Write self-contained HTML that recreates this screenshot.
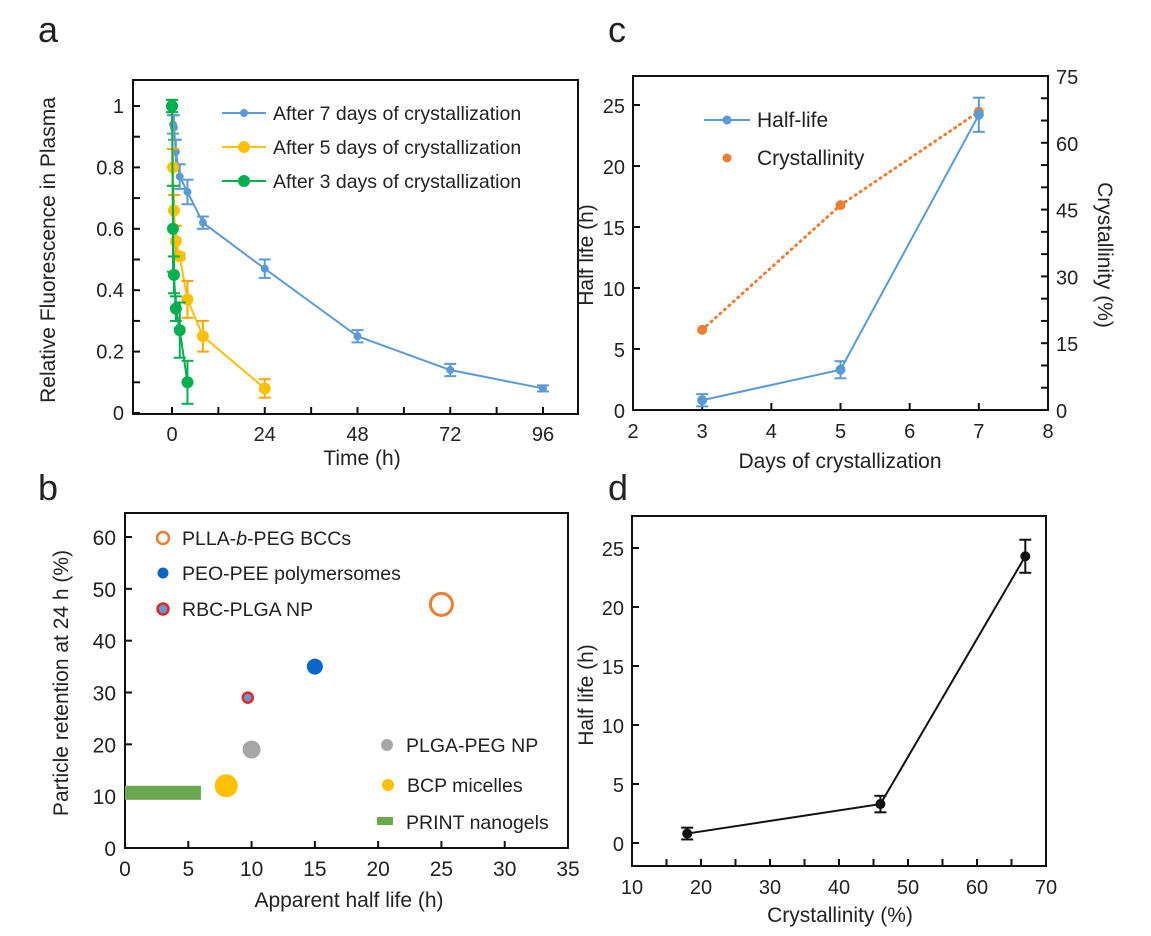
<!DOCTYPE html>
<html><head><meta charset="utf-8"><style>
body{margin:0;background:#fff;}
svg{display:block;font-family:"Liberation Sans",sans-serif;}
</style></head><body>
<svg id="fig" width="1151" height="936" viewBox="0 0 1151 936" xmlns="http://www.w3.org/2000/svg"></svg>
<script>
// ---- Panel a data ----
const aTime7 = [0, 0.25, 0.5, 1, 2, 4, 8, 24, 48, 72, 96];
const aVal7  = [1.0, 0.94, 0.93, 0.85, 0.77, 0.72, 0.62, 0.47, 0.25, 0.14, 0.08];
const aErr7  = [0.02, 0.03, 0.04, 0.04, 0.04, 0.04, 0.02, 0.03, 0.02, 0.02, 0.01];
const aTime5 = [0, 0.25, 0.5, 1, 2, 4, 8, 24];
const aVal5  = [1.0, 0.8, 0.66, 0.56, 0.51, 0.37, 0.25, 0.08];
const aErr5  = [0.02, 0.06, 0.05, 0.05, 0.01, 0.06, 0.05, 0.03];
const aTime3 = [0, 0.25, 0.5, 1, 2, 4];
const aVal3  = [1.0, 0.6, 0.45, 0.34, 0.27, 0.1];
const aErr3  = [0.02, 0.14, 0.06, 0.04, 0.09, 0.07];
const aXTicks = [0, 24, 48, 72, 96];
const aYTicks = ["0", "0.2", "0.4", "0.6", "0.8", "1"];
// ---- Panel b data ----
const bNames = ["PLLA-b-PEG BCCs", "PEO-PEE polymersomes", "RBC-PLGA NP", "PLGA-PEG NP", "BCP micelles"];
const bHalf  = [25, 15, 9.7, 10, 8];
const bRet   = [47, 35, 29, 19, 12];
const bPrintHalf = [0, 6];
const bPrintRet  = [9.3, 12];
const bXTicks = [0, 5, 10, 15, 20, 25, 30, 35];
const bYTicks = [0, 10, 20, 30, 40, 50, 60];
// ---- Panel c data ----
const cDays = [3, 5, 7];
const cHalf = [0.8, 3.3, 24.2];
const cHalfErr = [0.5, 0.7, 1.4];
const cCryst = [18, 46, 67];
const cXTicks = [2, 3, 4, 5, 6, 7, 8];
const cYTicks = [0, 5, 10, 15, 20, 25];
const cY2Ticks = [0, 15, 30, 45, 60, 75];
// ---- Panel d data ----
const dCryst = [18, 46, 67];
const dHalf = [0.8, 3.3, 24.3];
const dErr = [0.5, 0.7, 1.4];
const dXTicks = [10, 20, 30, 40, 50, 60, 70];
const dYTicks = [0, 5, 10, 15, 20, 25];

const NS = "http://www.w3.org/2000/svg";
const svg = document.getElementById("fig");
function el(tag, attrs, parent, text){
  const e = document.createElementNS(NS, tag);
  for (const k in attrs) e.setAttribute(k, attrs[k]);
  if (text !== undefined) e.textContent = text;
  (parent || svg).appendChild(e);
  return e;
}
function lin(d0, d1, r0, r1){ return v => r0 + (v - d0) * (r1 - r0) / (d1 - d0); }
function line(x1,y1,x2,y2,stroke,w,parent,dash){
  const a = {x1,y1,x2,y2,stroke,"stroke-width":w};
  if (dash) a["stroke-dasharray"] = dash;
  return el("line", a, parent);
}
function txt(x,y,s,size,anchor,parent){
  return el("text",{x,y,"font-size":size,"text-anchor":anchor||"middle",fill:"#222"},parent,s);
}
function panelLabel(x,y,s){
  const t = txt(x,y,s,36,"start");
  
  
}

// ===== Panel a =====
(function(){
  const g = el("g",{});
  
  
  const L=133, R=578, T=80, B=414;
  const x = lin(0,96,172,543), y = lin(0,1,413,106);
  const ax = el("rect",{x:L,y:T,width:R-L,height:B-T,fill:"none",stroke:"#111","stroke-width":2},g);
  
  
  for (let v=0; v<=1.0001; v+=0.1) line(L,y(v),L+7,y(v),"#111",2,g);
  for (let h=0; h<=96; h+=12) line(x(h),B,x(h),B-7,"#111",2,g);
  aYTicks.forEach(s=>{ const t=txt(L-9,y(parseFloat(s))+7,s,20,"end",g);
    
     });
  aXTicks.forEach(v=>{ const t=txt(x(v),B+27,String(v),20,"middle",g);
    
     });
  const xt = txt(362,465,"Time (h)",21,"middle",g);
  
  
  const yt = txt(0,0,"Relative Fluorescence in Plasma",21,"middle",g);
  yt.setAttribute("transform","translate(55,250) rotate(-90)");
  
  
  const series = [
    {t:aTime7,v:aVal7,e:aErr7,c:"#5b9bd5",r:4,name:"After 7 days of crystallization"},
    {t:aTime5,v:aVal5,e:aErr5,c:"#ffc000",r:6,name:"After 5 days of crystallization"},
    {t:aTime3,v:aVal3,e:aErr3,c:"#00b050",r:6,name:"After 3 days of crystallization"}];
  const errCol = ["#5b9bd5","#ffa500","#00b050"];
  series.forEach((s,i)=>{
    const sg = el("g",{},g);
    
    
    let d = s.t.map((t,j)=>(j?"L":"M")+x(t)+","+y(s.v[j])).join(" ");
    el("path",{d,fill:"none",stroke:s.c,"stroke-width":2},sg);
    s.t.forEach((t,j)=>{
      const cx=x(t), y1=y(s.v[j]+s.e[j]), y2=y(s.v[j]-s.e[j]);
      line(cx,y1,cx,y2,errCol[i],2,sg); line(cx-6,y1,cx+6,y1,errCol[i],2,sg); line(cx-6,y2,cx+6,y2,errCol[i],2,sg);
      const c = el("circle",{cx,cy:y(s.v[j]),r:s.r,fill:s.c},sg);
      
      
    });
    const ly = [113,147,181][i];
    const lg = el("g",{},g);
    
    
    line(222,ly,266,ly,s.c,2,lg);
    el("circle",{cx:244,cy:ly,r:s.r,fill:s.c},lg);
    txt(273,ly+7,s.name,19.5,"start",lg);
  });
})();
panelLabel(38,42,"a");

// ===== Panel b =====
(function(){
  const g = el("g",{});
  
  
  const L=125, R=568, T=513, B=848;
  const x = lin(0,35,L,R), y = lin(0,60,848,537);
  const ax = el("rect",{x:L,y:T,width:R-L,height:B-T,fill:"none",stroke:"#111","stroke-width":2},g);
  
  
  bYTicks.forEach(v=>{ line(L,y(v),L+7,y(v),"#111",2,g);
    const t=txt(L-9,y(v)+8,String(v),21,"end",g);
    
     });
  bXTicks.forEach(v=>{ line(x(v),B,x(v),B-7,"#111",2,g);
    const t=txt(x(v),B+28,String(v),21,"middle",g);
    
     });
  const xt = txt(349,907,"Apparent half life (h)",21,"middle",g);
  
  
  const yt = txt(0,0,"Particle retention at 24 h (%)",21,"middle",g);
  yt.setAttribute("transform","translate(68,683) rotate(-90)");
  
  
  const pr = el("rect",{x:x(bPrintHalf[0]),y:y(bPrintRet[1]),width:x(bPrintHalf[1])-x(bPrintHalf[0]),height:y(bPrintRet[0])-y(bPrintRet[1]),fill:"#6aa84f"},g);
  
  
  const styles = [
    {r:11,fill:"#fff",stroke:"#ed7d31",sw:3},
    {r:8,fill:"#0b66c9",stroke:"none",sw:0},
    {r:5,fill:"#5b9bd5",stroke:"#e8262a",sw:2.5},
    {r:9,fill:"#a6a6a6",stroke:"none",sw:0},
    {r:11.5,fill:"#ffc000",stroke:"none",sw:0}];
  bNames.forEach((n,i)=>{
    const s=styles[i];
    const c = el("circle",{cx:x(bHalf[i]),cy:y(bRet[i]),r:s.r,fill:s.fill,stroke:s.stroke,"stroke-width":s.sw},g);
    
    
  });
  const legPos = [[163,538],[163,573],[163,609],[387,745],[388,785]];
  const legR = [6,5.5,5.5,6,6];
  bNames.forEach((n,i)=>{
    const s=styles[i], [lx,ly]=legPos[i];
    const lg = el("g",{},g);
    
    
    el("circle",{cx:lx,cy:ly,r:legR[i],fill:s.fill,stroke:s.stroke,"stroke-width":s.sw?2.5:0},lg);
    if (i===0){
      const t = el("text",{x:182,y:ly+7,"font-size":19.5,fill:"#222"},lg);
      el("tspan",{},t,"PLLA-"); el("tspan",{"font-style":"italic"},t,"b"); el("tspan",{},t,"-PEG BCCs");
    } else txt(lx+19,ly+7,n,19.5,"start",lg);
  });
  const lg = el("g",{},g);
  
  
  el("rect",{x:377,y:817,width:16,height:8,fill:"#6aa84f"},lg);
  txt(406,829,"PRINT nanogels",19.5,"start",lg);
})();
panelLabel(38,500,"b");

// ===== Panel c =====
(function(){
  const g = el("g",{});
  
  
  const L=633, R=1048, T=76, B=410;
  const x = lin(2,8,L,R), y = lin(0,25,B,105), y2 = lin(0,75,B,T);
  const ax = el("rect",{x:L,y:T,width:R-L,height:B-T,fill:"none",stroke:"#111","stroke-width":2},g);
  
  
  cYTicks.forEach(v=>{ line(L,y(v),L+7,y(v),"#111",2,g);
    const t=txt(L-8,y(v)+8,String(v),20,"end",g);
    
     });
  for (let v=0; v<=75; v+=5) line(R,y2(v),R-7,y2(v),"#111",2,g);
  cY2Ticks.forEach(v=>{ const t=txt(R+8,y2(v)+8,String(v),20,"start",g);
    
     });
  cXTicks.forEach(v=>{ line(x(v),B,x(v),B-7,"#111",2,g);
    const t=txt(x(v),B+28,String(v),20,"middle",g);
    
     });
  const xt = txt(840,468,"Days of crystallization",21,"middle",g);
  
  
  const yt = txt(0,0,"Half life (h)",21,"middle",g);
  yt.setAttribute("transform","translate(593,255) rotate(-90)");
  
  
  const yt2 = txt(0,0,"Crystallinity (%)",21,"middle",g);
  yt2.setAttribute("transform","translate(1098,255) rotate(90)");
  
  
  const cp = el("path",{d:cDays.map((d,i)=>(i?"L":"M")+x(d)+","+y2(cCryst[i])).join(" "),fill:"none",stroke:"#ed7d31","stroke-width":3,"stroke-dasharray":"1 5","stroke-linecap":"round"},g);
  
  
  cDays.forEach((d,i)=>{ const c=el("circle",{cx:x(d),cy:y2(cCryst[i]),r:5,fill:"#ed7d31"},g);
    
     });
  const hp = el("path",{d:cDays.map((d,i)=>(i?"L":"M")+x(d)+","+y(cHalf[i])).join(" "),fill:"none",stroke:"#5b9bd5","stroke-width":2},g);
  
  
  cDays.forEach((d,i)=>{
    const cx=x(d), a=y(cHalf[i]+cHalfErr[i]), b=y(cHalf[i]-cHalfErr[i]);
    line(cx,a,cx,b,"#5b9bd5",2,g); line(cx-6,a,cx+6,a,"#5b9bd5",2,g); line(cx-6,b,cx+6,b,"#5b9bd5",2,g);
    const c=el("circle",{cx,cy:y(cHalf[i]),r:5,fill:"#5b9bd5"},g);
    
    
  });
  const l1 = el("g",{},g);
  
  
  line(704,120,750,120,"#5b9bd5",2,l1); el("circle",{cx:727,cy:120,r:4.5,fill:"#5b9bd5"},l1);
  txt(757,127,"Half-life",21,"start",l1);
  const l2 = el("g",{},g);
  
  
  el("circle",{cx:727,cy:158,r:4.5,fill:"#ed7d31"},l2);
  txt(757,165,"Crystallinity",21,"start",l2);
})();
panelLabel(608,42,"c");

// ===== Panel d =====
(function(){
  const g = el("g",{});
  
  
  const L=632, R=1046, T=516, B=866;
  const x = lin(10,70,L,R), y = lin(0,25,843,548);
  const ax = el("rect",{x:L,y:T,width:R-L,height:B-T,fill:"none",stroke:"#111","stroke-width":2},g);
  
  
  dYTicks.forEach(v=>{ line(L,y(v),L+7,y(v),"#111",2,g);
    const t=txt(L-8,y(v)+8,String(v),20,"end",g);
    
     });
  for (let v=10; v<=70; v+=5) line(x(v),B,x(v),B-7,"#111",2,g);
  dXTicks.forEach(v=>{ const t=txt(x(v),B+28,String(v),20,"middle",g);
    
     });
  const xt = txt(840,922,"Crystallinity (%)",21,"middle",g);
  
  
  const yt = txt(0,0,"Half life (h)",21,"middle",g);
  yt.setAttribute("transform","translate(593,695) rotate(-90)");
  
  
  const p = el("path",{d:dCryst.map((c,i)=>(i?"L":"M")+x(c)+","+y(dHalf[i])).join(" "),fill:"none",stroke:"#111","stroke-width":2},g);
  
  
  dCryst.forEach((c,i)=>{
    const cx=x(c), a=y(dHalf[i]+dErr[i]), b=y(dHalf[i]-dErr[i]);
    line(cx,a,cx,b,"#111",2,g); line(cx-6,a,cx+6,a,"#111",2,g); line(cx-6,b,cx+6,b,"#111",2,g);
    const pt=el("circle",{cx,cy:y(dHalf[i]),r:5,fill:"#111"},g);
    
    
  });
})();
panelLabel(608,500,"d");
</script>
</body></html>
